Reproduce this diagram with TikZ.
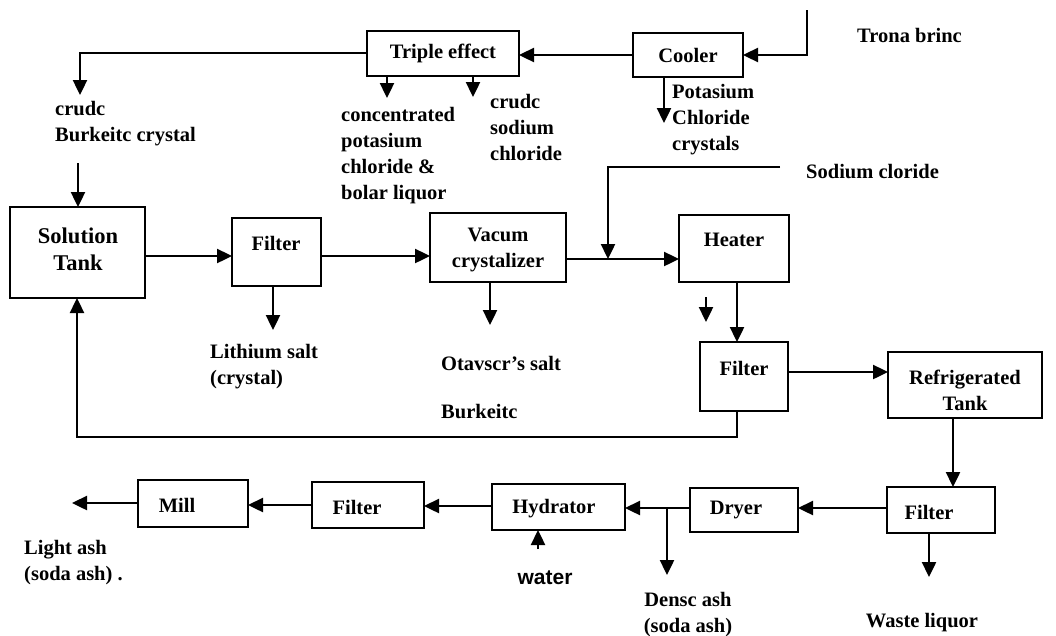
\documentclass[tikz,border=0pt]{standalone}
\usepackage{fontspec}
\setmainfont{Liberation Serif}
\setsansfont{Liberation Sans}
\usetikzlibrary{arrows.meta}
\begin{document}
\begin{tikzpicture}[x=1pt,y=-1pt,
  box/.style={draw, line width=2.6pt, inner sep=0pt, outer sep=0pt},
  lbl/.style={font=\fontsize{20.5}{26}\selectfont\bfseries, inner sep=0pt},
  big/.style={font=\fontsize{22.5}{27}\selectfont\bfseries, inner sep=0pt, align=center},
  arr/.style={line width=2.4pt, -{Triangle[length=15pt,width=14pt]}},
  ln/.style={line width=2.4pt}]
\useasboundingbox (0,0) rectangle (1056,635);
% boxes
\node[box, minimum width=152, minimum height=45] (trip) at (443,53.5) {};
\node[box, minimum width=110, minimum height=44] (cool) at (688,55) {};
\node[box, minimum width=135, minimum height=91] (sol) at (77.5,252.5) {};
\node[box, minimum width=89, minimum height=68] (f1) at (276.5,252) {};
\node[box, minimum width=136, minimum height=69] (vac) at (498,247.5) {};
\node[box, minimum width=110, minimum height=67] (heat) at (734,248.5) {};
\node[box, minimum width=88, minimum height=69] (f2) at (744,376.5) {};
\node[box, minimum width=154, minimum height=66] (ref) at (965,385) {};
\node[box, minimum width=108, minimum height=46] (f3) at (941,510) {};
\node[box, minimum width=108, minimum height=44] (dry) at (744,510) {};
\node[box, minimum width=133, minimum height=46] (hyd) at (558.5,507) {};
\node[box, minimum width=112, minimum height=46] (f4) at (368,505) {};
\node[box, minimum width=110, minimum height=47] (mill) at (193,503.5) {};
% box texts
\node[lbl] (tript) at (443,53) {Triple effect};
\node[lbl] (coolt) at (688,55) {Cooler};
\node[big] (solt) at (78,249) {Solution\\Tank};
\node[lbl] (f1t) at (276,243) {Filter};
\node[lbl, align=center] (vact) at (498,250) {Vacum\\crystalizer};
\node[lbl] (heatt) at (734,240) {Heater};
\node[lbl] (f2t) at (744,368) {Filter};
\node[lbl, align=center] (reft) at (965,390) {Refrigerated\\Tank};
\node[lbl] (f3t) at (929,512) {Filter};
\node[lbl] (dryt) at (736,510) {Dryer};
\node[lbl] (hydt) at (554,509) {Hydrator};
\node[lbl] (f4t) at (357,507) {Filter};
\node[lbl] (millt) at (177,505) {Mill};
% free-standing labels
\node[lbl, anchor=west] (trona) at (857,35) {Trona brinc};
\node[lbl, anchor=west, align=left] (cbk) at (55,123.5) {crudc\\Burkeitc crystal};
\node[lbl, anchor=west, align=left] (conc) at (341,155.5) {concentrated\\potasium\\chloride \&\\bolar liquor};
\node[lbl, anchor=west, align=left] (csc) at (490,127) {crudc\\sodium\\chloride};
\node[lbl, anchor=west, align=left] (pcc) at (672,120) {Potasium\\Chloride\\crystals};
\node[lbl, anchor=west] (nacl) at (806,172) {Sodium cloride};
\node[lbl, anchor=west, align=left] (lith) at (210,366.5) {Lithium salt\\(crystal)};
\node[lbl, anchor=west] (otav) at (441,363) {Otavscr’s salt};
\node[lbl, anchor=west] (burk) at (441,412) {Burkeitc};
\node[lbl, anchor=west, align=left] (light) at (24,562.5) {Light ash\\(soda ash) .};
\node[font=\fontsize{21}{24}\selectfont\sffamily\bfseries, inner sep=0pt] (water) at (545,578) {water};
\node[lbl, align=center] (dense) at (688,614.5) {Densc ash\\(soda ash)};
\node[lbl] (waste) at (922,623) {Waste liquor};
% free ends
\coordinate (tronatop) at (807,10);
\coordinate (tronac) at (807,55);
\coordinate (tripc) at (80,53);
\coordinate (cbkend) at (80,95);
\coordinate (cbkstart) at (78,163);
\coordinate (t1) at (387,98);
\coordinate (t2) at (473,97);
\coordinate (c1) at (664,123);
\coordinate (naclstart) at (780,167);
\coordinate (naclc) at (608,167);
\coordinate (naclend) at (608,259);
\coordinate (straytop) at (706,297);
\coordinate (strayend) at (706,322);
\coordinate (l1) at (273,330);
\coordinate (v1) at (490,325);
\coordinate (rb) at (737,437);
\coordinate (rl) at (77,437);
\coordinate (w1) at (929,577);
\coordinate (dbr) at (667,508);
\coordinate (dend) at (667,575);
\coordinate (mend) at (72,503);
\coordinate (wstart) at (538,549);
% connectors
\draw[arr] (tronatop) -- (tronac) -- (cool.east |- tronac);
\draw[arr] (cool.west) -- (cool.west -| trip.east);
\draw[arr] (trip.west |- tripc) -- (tripc) -- (cbkend);
\draw[arr] (trip.south -| t1) -- (t1);
\draw[arr] (trip.south -| t2) -- (t2);
\draw[arr] (cool.south -| c1) -- (c1);
\draw[arr] (cbkstart) -- (sol.north -| cbkstart);
\draw[arr] (sol.east |- 0,256) -- (f1.west |- 0,256);
\draw[arr] (f1.east |- 0,256) -- (vac.west |- 0,256);
\draw[arr] (vac.east |- 0,259) -- (heat.west |- 0,259);
\draw[arr] (naclstart) -- (naclc) -- (naclend);
\draw[arr] (heat.south -| 737,0) -- (f2.north -| 737,0);
\draw[arr] (straytop) -- (strayend);
\draw[arr] (f1.south -| l1) -- (l1);
\draw[arr] (vac.south -| v1) -- (v1);
\draw[arr] (f2.east |- 0,372) -- (ref.west |- 0,372);
\draw[arr] (f2.south -| rb) -- (rb) -- (rl) -- (sol.south -| rl);
\draw[arr] (ref.south -| 953,0) -- (f3.north -| 953,0);
\draw[arr] (f3.south -| w1) -- (w1);
\draw[arr] (f3.west |- 0,508) -- (dry.east |- 0,508);
\draw[arr] (dry.west |- 0,508) -- (hyd.east |- 0,508);
\draw[arr] (dbr) -- (dend);
\draw[arr] (hyd.west |- 0,506) -- (f4.east |- 0,506);
\draw[arr] (f4.west |- 0,505) -- (mill.east |- 0,505);
\draw[arr] (mill.west |- mend) -- (mend);
\draw[arr] (wstart) -- (hyd.south -| wstart);
\end{tikzpicture}
\end{document}
